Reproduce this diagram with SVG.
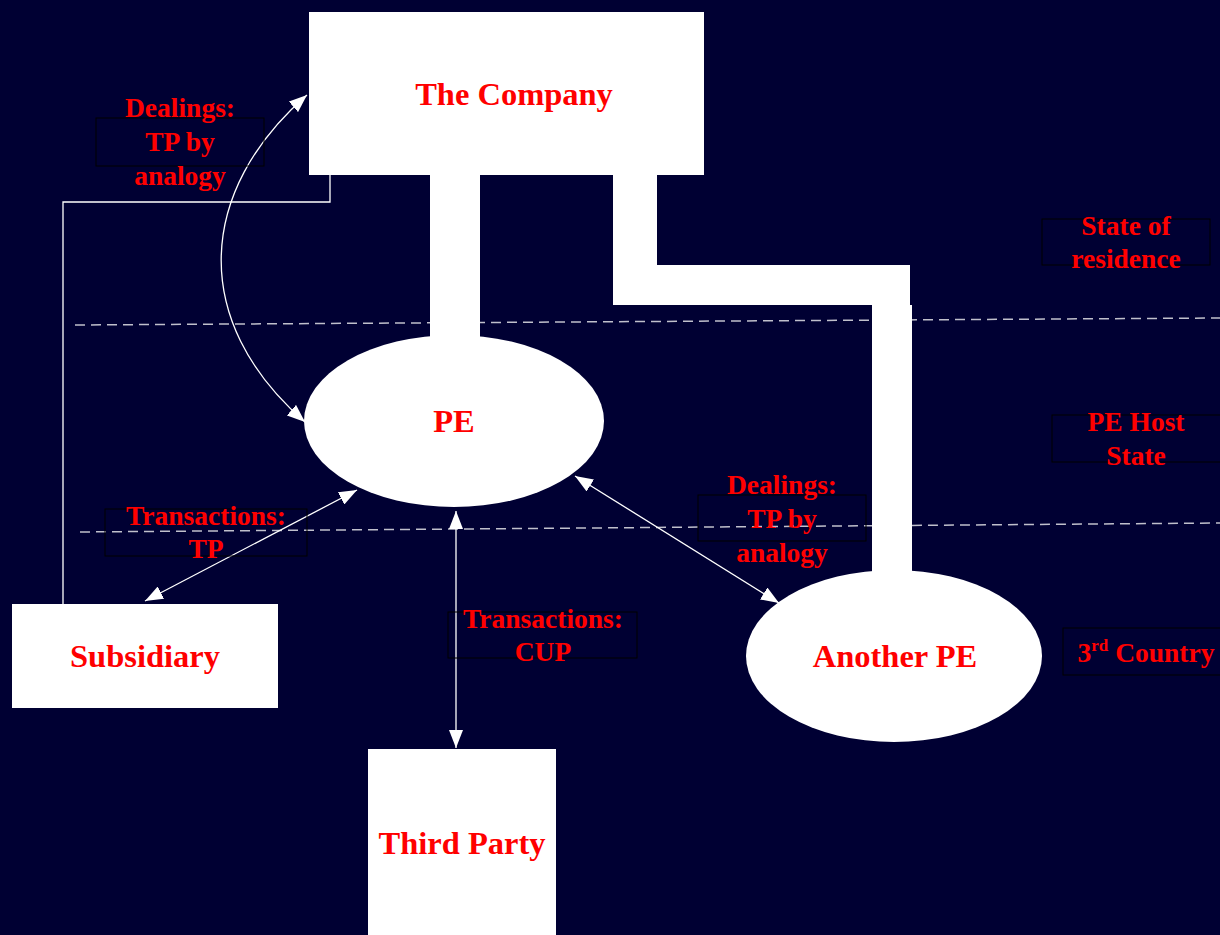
<svg xmlns="http://www.w3.org/2000/svg" width="1220" height="935" viewBox="0 0 1220 935">
<defs>
<style>
.node{fill:#ffffff;stroke:none}
.nt{font-family:"Liberation Serif","Times New Roman",serif;font-weight:bold;font-size:32.5px;fill:#ff0000;text-anchor:middle}
.lt{font-family:"Liberation Serif","Times New Roman",serif;font-weight:bold;font-size:27.5px;fill:#ff0000;text-anchor:middle}
.lb{fill:none;stroke:#000000;stroke-width:1}
.dash{stroke:#c0c0cc;stroke-width:1.5;stroke-dasharray:10 6;fill:none}
.conn{stroke:#ffffff;stroke-width:1.3;fill:none}
</style>
<marker id="ah" viewBox="0 0 18 14" refX="18" refY="7" markerWidth="18" markerHeight="14" markerUnits="userSpaceOnUse" orient="auto-start-reverse">
<path d="M0,0 L18,7 L0,14 Z" fill="#ffffff"/>
</marker>
</defs>
<rect x="0" y="0" width="1220" height="935" fill="#000033"/>

<g id="dashed-lines">
<line class="dash" x1="75" y1="325" x2="1220" y2="318"/>
<line class="dash" x1="80" y1="532" x2="1220" y2="523"/>
</g>

<g id="connectors">
<rect class="node" x="430" y="170" width="50" height="180"/>
<path class="node" d="M613,170 L657,170 L657,265 L910,265 L910,305 L912,305 L912,580 L872,580 L872,305 L613,305 Z"/>
<polyline class="conn" points="63,604 63,202 330,202 330,175" stroke-width="1"/>
<path class="conn" d="M307,95 C198,190 188,320 305,422" marker-start="url(#ah)" marker-end="url(#ah)"/>
<line class="conn" x1="145" y1="601" x2="357" y2="490" marker-start="url(#ah)" marker-end="url(#ah)"/>
<line class="conn" x1="456" y1="511" x2="456" y2="748" marker-start="url(#ah)" marker-end="url(#ah)"/>
<line class="conn" x1="575" y1="476" x2="779" y2="603" marker-start="url(#ah)" marker-end="url(#ah)"/>
</g>

<g id="company">
<rect class="node" x="309" y="12" width="395" height="163"/>
<text class="nt" x="514" y="105">The Company</text>
</g>

<g id="pe">
<ellipse class="node" cx="454" cy="421" rx="150" ry="86"/>
<text class="nt" x="454" y="432">PE</text>
</g>

<g id="another-pe">
<ellipse class="node" cx="894" cy="656" rx="148" ry="86"/>
<text class="nt" x="895" y="667">Another PE</text>
</g>

<g id="subsidiary">
<rect class="node" x="12" y="604" width="266" height="104"/>
<text class="nt" x="145" y="667">Subsidiary</text>
</g>

<g id="third-party">
<rect class="node" x="368" y="749" width="188" height="190"/>
<text class="nt" x="462" y="854">Third Party</text>
</g>

<g id="label-dealings-left">
<rect class="lb" x="96" y="118" width="168" height="48"/>
<text class="lt" x="180" y="117">Dealings:</text>
<text class="lt" x="180" y="151">TP by</text>
<text class="lt" x="180" y="185">analogy</text>
</g>

<g id="label-dealings-right">
<rect class="lb" x="698" y="495" width="168" height="46"/>
<text class="lt" x="782" y="494">Dealings:</text>
<text class="lt" x="782" y="528">TP by</text>
<text class="lt" x="782" y="562">analogy</text>
</g>

<g id="label-transactions-tp">
<rect class="lb" x="105" y="509" width="202" height="47"/>
<text class="lt" x="206" y="525">Transactions:</text>
<text class="lt" x="206" y="558">TP</text>
</g>

<g id="label-transactions-cup">
<rect class="lb" x="448" y="612" width="189" height="46"/>
<text class="lt" x="543" y="628">Transactions:</text>
<text class="lt" x="543" y="661">CUP</text>
</g>

<g id="label-state-residence">
<rect class="lb" x="1042" y="219" width="168" height="46"/>
<text class="lt" x="1126" y="235">State of</text>
<text class="lt" x="1126" y="268">residence</text>
</g>

<g id="label-pe-host">
<rect class="lb" x="1052" y="415" width="170" height="47"/>
<text class="lt" x="1136" y="431">PE Host</text>
<text class="lt" x="1136" y="465">State</text>
</g>

<g id="label-3rd-country">
<rect class="lb" x="1063" y="628" width="160" height="47"/>
<text class="lt" x="1146" y="662">3<tspan font-size="17" dy="-11">rd</tspan><tspan dy="11"> Country</tspan></text>
</g>
</svg>
